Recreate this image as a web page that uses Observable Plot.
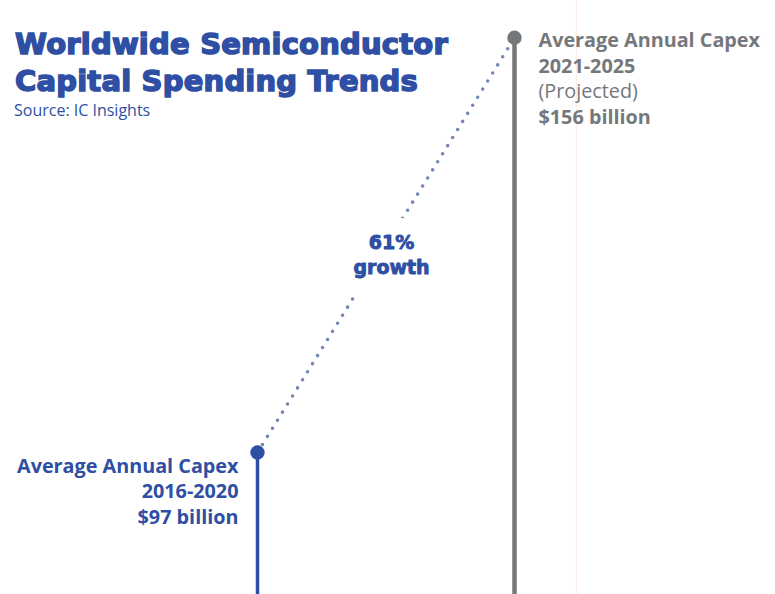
<!DOCTYPE html>
<html><head><meta charset="utf-8">
<script src="https://cdn.jsdelivr.net/npm/d3@7"></script>
<script src="https://cdn.jsdelivr.net/npm/@observablehq/plot@0.6"></script>
<style>
body{margin:0;background:#fff;}
#wrap{position:relative;width:775px;height:594px;overflow:hidden;}
#title{position:absolute;left:15px;top:26px;font-family:"DejaVu Sans";font-weight:bold;font-size:29px;line-height:37px;color:#2e4fa3;letter-spacing:0.2px;-webkit-text-stroke:1.5px #2e4fa3;}
#src{position:absolute;left:14px;top:99px;font-family:"Open Sans";font-size:16px;color:#2e4fa3;}
#chart{position:absolute;left:0;top:0;}
</style></head>
<body><div id="wrap"><div id="chart"></div>
<div id="title">Worldwide Semiconductor<br>Capital Spending Trends</div>
<div id="src">Source: IC Insights</div></div>
<script>
const periods = ["2016-2020", "2021-2025"];
const capex = [97, 156];
const growthLabel = ["61%", "growth"];
const blueLines = ["Average Annual Capex", "2016-2020", "$97 billion"];
const grayLines = ["Average Annual Capex", "2021-2025", "(Projected)", "$156 billion"];
const grayWeights = ["bold", "bold", "normal", "bold"];

const blue = "#2e4fa3", gray = "#75787b";
const data = periods.map((p, i) => ({period: p, value: capex[i]}));
const yMin = 76.8, yMax = 161.3;
const font = "Open Sans";
const mid = [{period: periods[0], value: (capex[0] + capex[1]) / 2}];
const growthText = growthLabel.join("\n");

const marks = [
  Plot.ruleX([periods[1]], {x: d => d, y1: yMin, y2: yMax, stroke: "#fbeee6", strokeWidth: 1.2, dx: 62}),
  Plot.line(data, {x: "period", y: "value", stroke: "#7388b0", strokeWidth: 3.6, strokeDasharray: "0 9.5", strokeLinecap: "round"}),
  Plot.text(mid, {x: "period", y: "value", text: () => growthText, dx: 134, dy: 8, lineHeight: 1.35, fill: "white", fontFamily: "DejaVu Sans", fontWeight: "bold", fontSize: 19, stroke: "white", strokeWidth: 34, strokeLinejoin: "round"}),
  Plot.text(mid, {x: "period", y: "value", text: () => growthText, dx: 134, dy: 8, lineHeight: 1.35, fill: blue, stroke: blue, strokeWidth: 0.9, fontFamily: "DejaVu Sans", fontWeight: "bold", fontSize: 19}),
  Plot.ruleX(data, {x: "period", y1: yMin, y2: "value", stroke: (d, i) => i ? gray : blue, strokeWidth: (d, i) => i ? 4.5 : 3.5}),
  Plot.dot(data, {x: "period", y: "value", r: 7.2, fill: (d, i) => i ? gray : blue, stroke: "none"})
];
blueLines.forEach((t, i) => marks.push(Plot.text([data[0]], {x: "period", y: "value", text: () => t, textAnchor: "end", dx: -19, dy: 14 + i * 25.5, fill: blue, fontFamily: font, fontWeight: "bold", fontSize: 19.8})));
grayLines.forEach((t, i) => marks.push(Plot.text([data[1]], {x: "period", y: "value", text: () => t, textAnchor: "start", dx: 24, dy: 3 + i * 25.5, fill: gray, fontFamily: font, fontWeight: grayWeights[i], fontSize: 19.8})));

const chart = Plot.plot({
  width: 775, height: 594,
  marginTop: 0, marginBottom: 0, marginLeft: 0, marginRight: 0,
  x: {type: "point", domain: periods, range: [257, 514], padding: 0, axis: null},
  y: {domain: [yMin, yMax], range: [594, 0], axis: null},
  style: {background: "transparent", overflow: "visible"},
  marks
});
document.getElementById("chart").appendChild(chart);
</script></body></html>
